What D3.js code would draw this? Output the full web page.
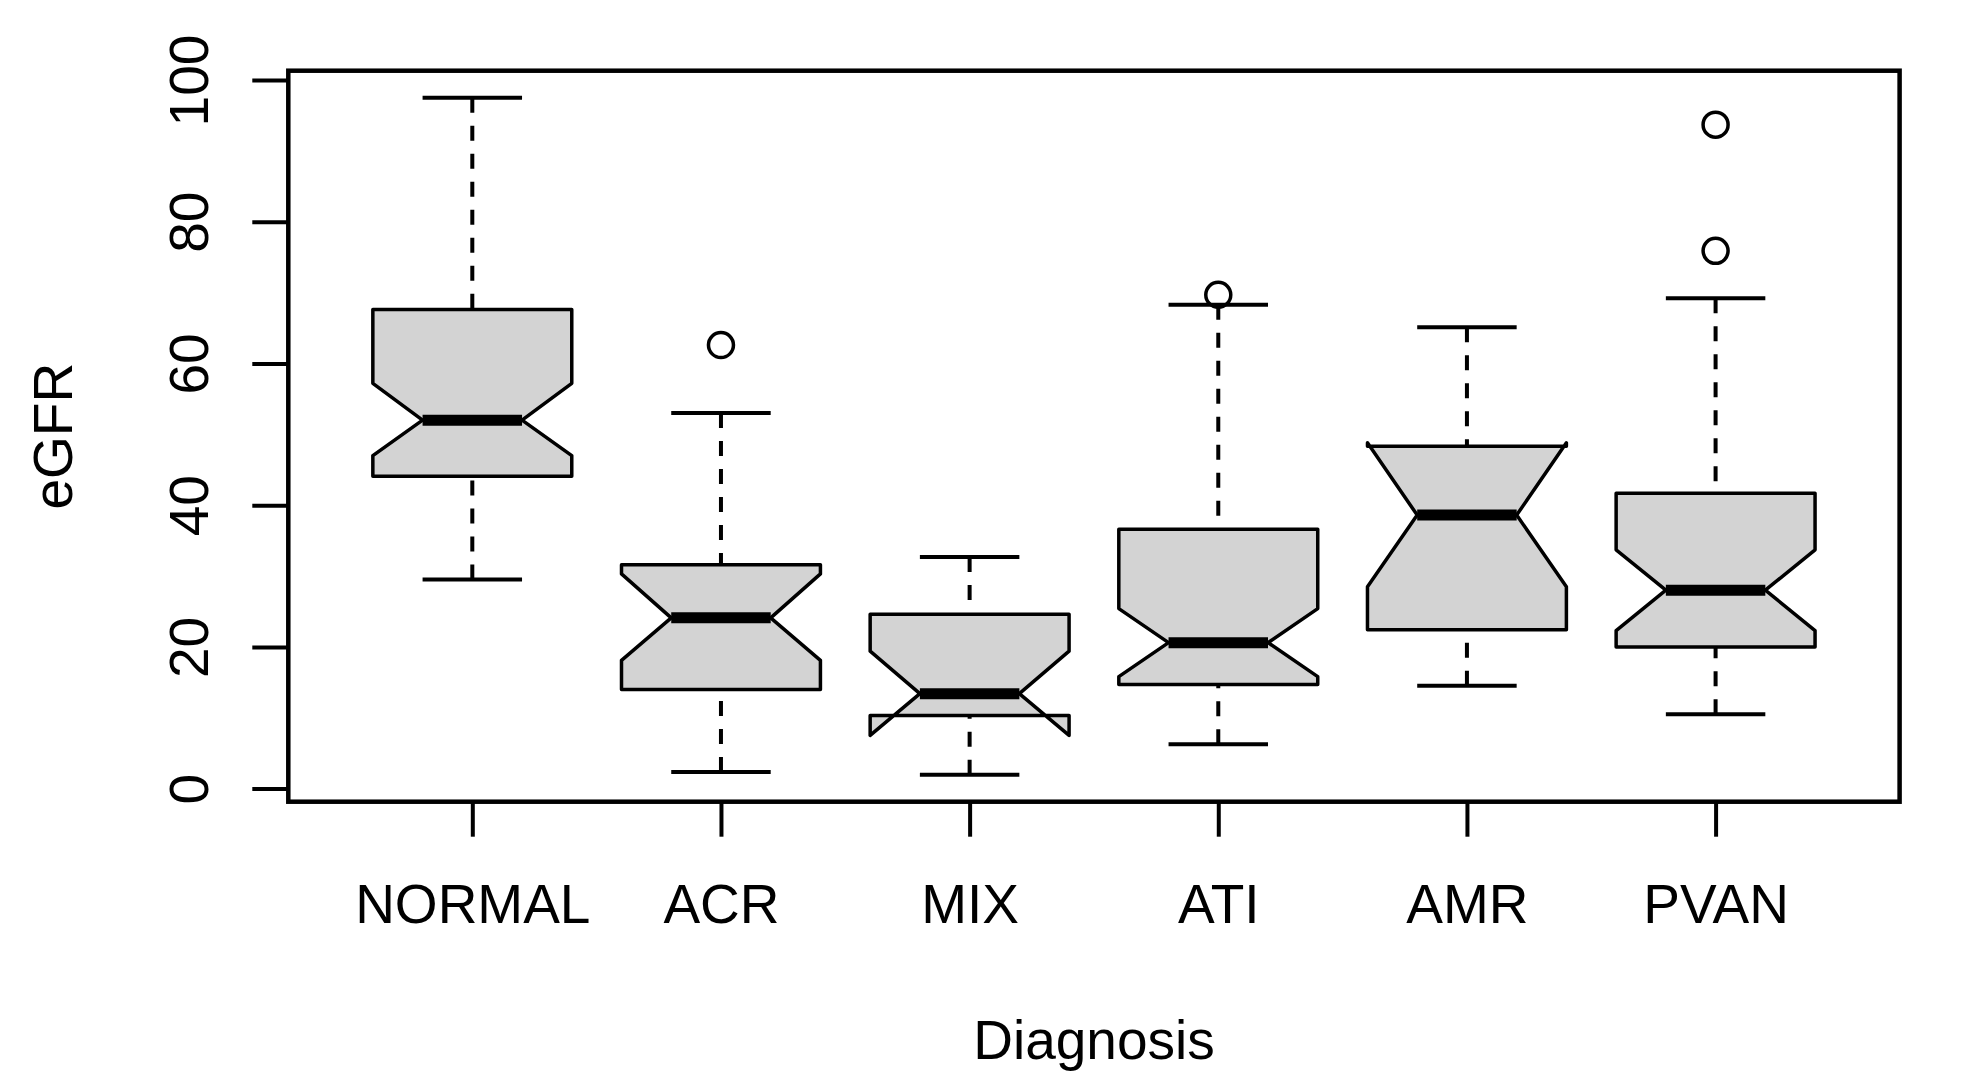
<!DOCTYPE html>
<html>
<head>
<meta charset="utf-8">
<script src="https://cdn.jsdelivr.net/npm/d3@7"></script>
<style>
  html, body { margin: 0; padding: 0; background: #fff; }
  svg { display: block; }
  text { font-family: "Liberation Sans", Arial, Helvetica, sans-serif; fill: #000; }
</style>
</head>
<body>
<script>
// ---- data ----
const categories  = ["NORMAL", "ACR", "MIX", "ATI", "AMR", "PVAN"];
const whiskerLow  = [29.5, 2.35, 1.97, 6.27, 14.5, 10.5];
const q1          = [44.1, 14.0, 10.3, 14.7, 22.4, 20.0];
const notchLow    = [47.0, 18.1, 7.5, 15.8, 28.5, 22.3];
const medians     = [52.0, 24.1, 13.4, 20.6, 38.6, 28.0];
const notchHigh   = [57.2, 30.3, 19.4, 25.4, 48.8, 33.7];
const q3          = [67.6, 31.6, 24.6, 36.6, 48.3, 41.7];
const whiskerHigh = [97.5, 53.0, 32.7, 68.3, 65.1, 69.2];
const outliers    = [[], [62.6], [], [69.7], [], [93.7, 75.9]];
const yTicks      = [0, 20, 40, 60, 80, 100];
const xTitle = "Diagnosis";
const yTitle = "eGFR";

// ---- layout ----
const W = 1983, H = 1091;
const plot = { left: 288.3, right: 1899.6, top: 70.7, bottom: 801.7 };
const fontSize = 55;

const svg = d3.select("body").append("svg")
  .attr("width", W).attr("height", H)
  .attr("viewBox", `0 0 ${W} ${H}`);
svg.append("rect").attr("width", W).attr("height", H).attr("fill", "#fff");

// R-style 4% axis extension
const n = categories.length;
const xs = d3.scaleLinear()
  .domain([0.5 - 0.04 * n, n + 0.5 + 0.04 * n])
  .range([plot.left, plot.right]);
const allVals = whiskerLow.concat(whiskerHigh, outliers.flat());
const yMin = d3.min(allVals), yMax = d3.max(allVals);
const pad = 0.04 * (yMax - yMin);
const ys = d3.scaleLinear()
  .domain([yMin - pad, yMax + pad])
  .range([plot.bottom, plot.top]);

const boxes = categories.map((c, i) => ({
  name: c, pos: i + 1,
  lo: whiskerLow[i], q1: q1[i], nl: notchLow[i], med: medians[i],
  nh: notchHigh[i], q3: q3[i], hi: whiskerHigh[i], out: outliers[i]
}));

const halfW = 0.4, notchFrac = 0.5, stapleFrac = 0.5;
const g = svg.append("g");

const bg = g.selectAll("g.box").data(boxes).join("g").attr("class", "box");

// whiskers (dashed)
bg.append("line")
  .attr("x1", d => xs(d.pos)).attr("x2", d => xs(d.pos))
  .attr("y1", d => ys(d.lo)).attr("y2", d => ys(d.q1))
  .attr("stroke", "#000").attr("stroke-width", 4)
  .attr("stroke-dasharray", "15,13");
bg.append("line")
  .attr("x1", d => xs(d.pos)).attr("x2", d => xs(d.pos))
  .attr("y1", d => ys(d.hi)).attr("y2", d => ys(d.q3))
  .attr("stroke", "#000").attr("stroke-width", 4)
  .attr("stroke-dasharray", "15,13");

// staples
["lo", "hi"].forEach(k => {
  bg.append("line")
    .attr("x1", d => xs(d.pos - halfW * stapleFrac))
    .attr("x2", d => xs(d.pos + halfW * stapleFrac))
    .attr("y1", d => ys(d[k])).attr("y2", d => ys(d[k]))
    .attr("stroke", "#000").attr("stroke-width", 4);
});

// notched box polygon (R bxp ordering)
bg.append("polygon")
  .attr("points", d => {
    const fx = [-1, 1, 1, notchFrac, 1, 1, -1, -1, -notchFrac, -1];
    const fy = [d.q1, d.q1, d.nl, d.med, d.nh, d.q3, d.q3, d.nh, d.med, d.nl];
    return fx.map((f, j) => `${xs(d.pos + f * halfW)},${ys(fy[j])}`).join(" ");
  })
  .attr("fill", "#d3d3d3")
  .attr("stroke", "#000").attr("stroke-width", 3.5)
  .attr("stroke-linejoin", "round");

// medians
bg.append("line")
  .attr("x1", d => xs(d.pos - halfW * notchFrac))
  .attr("x2", d => xs(d.pos + halfW * notchFrac))
  .attr("y1", d => ys(d.med)).attr("y2", d => ys(d.med))
  .attr("stroke", "#000").attr("stroke-width", 11)
  .attr("stroke-linecap", "butt");

// outliers
bg.selectAll("circle").data(d => d.out.map(v => ({ pos: d.pos, v })))
  .join("circle")
  .attr("cx", d => xs(d.pos)).attr("cy", d => ys(d.v))
  .attr("r", 12.5)
  .attr("fill", "none").attr("stroke", "#000").attr("stroke-width", 3.5);

// ---- axes ----
const yAxis = d3.axisLeft(ys).tickValues(yTicks).tickSize(36).tickPadding(0);
const yg = svg.append("g").attr("transform", `translate(${plot.left},0)`).call(yAxis);
yg.select(".domain").remove();
yg.selectAll(".tick line").attr("stroke", "#000").attr("stroke-width", 4);
yg.selectAll(".tick text")
  .attr("transform", "rotate(-90)")
  .attr("x", 0).attr("y", -80).attr("dy", 0)
  .attr("text-anchor", "middle")
  .style("font-size", fontSize + "px")
  .style("font-family", '"Liberation Sans", Arial, sans-serif')
  .attr("fill", "#000");

const xAxis = d3.axisBottom(xs)
  .tickValues(d3.range(1, n + 1))
  .tickFormat(v => categories[v - 1])
  .tickSize(35).tickPadding(0);
const xg = svg.append("g").attr("transform", `translate(0,${plot.bottom})`).call(xAxis);
xg.select(".domain").remove();
xg.selectAll(".tick line").attr("stroke", "#000").attr("stroke-width", 4);
xg.selectAll(".tick text")
  .attr("y", 121).attr("dy", 0)
  .attr("text-anchor", "middle")
  .style("font-size", fontSize + "px")
  .style("font-family", '"Liberation Sans", Arial, sans-serif')
  .attr("fill", "#000");

// frame
svg.append("rect")
  .attr("x", plot.left).attr("y", plot.top)
  .attr("width", plot.right - plot.left).attr("height", plot.bottom - plot.top)
  .attr("fill", "none").attr("stroke", "#000").attr("stroke-width", 4.5);

// titles
svg.append("text")
  .attr("x", (plot.left + plot.right) / 2).attr("y", 1059)
  .attr("text-anchor", "middle")
  .style("font-size", fontSize + "px")
  .text(xTitle);
svg.append("text")
  .attr("transform", `translate(72,${(plot.top + plot.bottom) / 2}) rotate(-90)`)
  .attr("text-anchor", "middle")
  .style("font-size", fontSize + "px")
  .text(yTitle);
</script>
</body>
</html>
